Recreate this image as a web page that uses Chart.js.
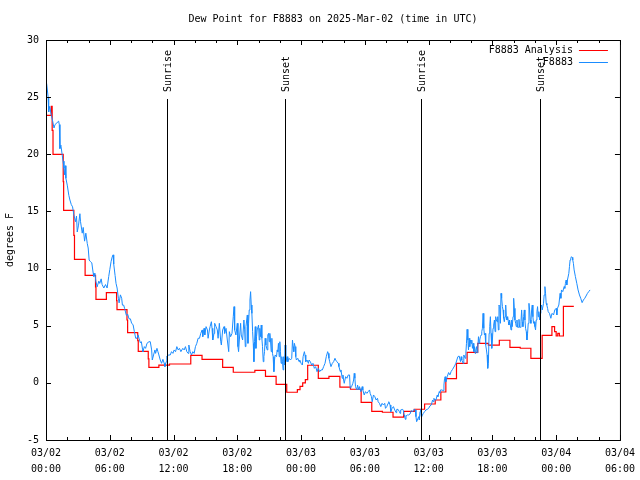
<!DOCTYPE html>
<html>
<head>
<meta charset="utf-8">
<title>Dew Point for F8883</title>
<script src="https://cdn.jsdelivr.net/npm/chart.js@4.4.1/dist/chart.umd.min.js"></script>
<style>
  html, body { margin: 0; padding: 0; background: #fff; }
  canvas { display: block; }
</style>
</head>
<body>
<canvas id="dewChart" width="640" height="480"></canvas>
<script>
const FONT = 'DejaVu Sans Mono';

// x axis: hours since 03/02 00:00 UTC, labelled every 6 h
const xTickDates = ['03/02', '03/02', '03/02', '03/02', '03/03', '03/03', '03/03', '03/03', '03/04', '03/04'];
const xTickTimes = ['00:00', '06:00', '12:00', '18:00', '00:00', '06:00', '12:00', '18:00', '00:00', '06:00'];

// sunrise / sunset markers (hours)
const sunHours = [11.37, 22.5, 35.28, 46.47];
const sunNames = ['Sunrise', 'Sunset', 'Sunrise', 'Sunset'];

// F8883 Analysis (hourly, stepped) [hour, degF]
const analysisPoints = [
    [0, 23.4], [0.5, 24.2], [0.58, 22.1], [0.66, 20.0], [1.62, 17.6], [1.66, 15.1], [2.62, 12.9], [2.68, 10.8],
    [3.68, 9.4], [4.66, 8.4], [4.7, 7.3], [5.68, 7.9], [6.64, 7.2], [6.68, 6.4], [7.62, 5.5], [7.68, 4.4],
    [8.63, 3.7], [8.68, 2.75], [9.62, 2.1], [9.68, 1.36], [10.62, 1.55], [11.62, 1.65], [13.62, 2.41], [14.68, 2.06],
    [16.62, 1.36], [17.62, 0.93], [19.65, 1.1], [20.65, 0.57], [21.65, -0.13], [22.65, -0.82], [23.65, -0.6], [23.9, -0.3],
    [24.15, 0.0], [24.4, 0.28], [24.62, 1.54], [25.62, 0.4], [26.62, 0.57], [27.65, -0.38], [28.65, -0.56], [29.65, -1.7],
    [30.65, -2.49], [31.65, -2.57], [32.65, -3.0], [33.65, -2.49], [34.65, -2.31], [35.62, -1.85], [36.62, -1.5], [37.15, -0.8],
    [37.62, 0.37], [38.62, 1.71], [39.62, 2.67], [40.62, 3.46], [41.62, 3.3], [42.65, 3.73], [43.65, 3.11], [44.62, 3.03],
    [45.62, 2.15], [46.68, 4.16], [47.6, 4.92], [47.85, 4.48], [48.0, 4.1], [48.15, 4.33], [48.3, 4.1], [48.68, 6.7],
    [49.66, 6.7]
];

// F8883 observations [hour, degF]
const obsPoints = [
    [0.06, 26.2], [0.2, 25.0], [0.25, 23.7], [0.35, 24.2], [0.5, 23.4], [0.63, 22.9], [0.75, 22.3], [0.85, 22.6],
    [0.94, 22.6], [1.19, 22.9], [1.25, 22.6], [1.31, 20.5], [1.4, 20.8], [1.53, 19.9], [1.6, 19.4], [1.69, 18.8],
    [1.75, 18.2], [1.81, 19.0], [1.87, 17.9], [2.0, 17.3], [2.15, 16.4], [2.25, 16.0], [2.38, 15.6], [2.5, 15.4],
    [2.62, 14.7], [2.78, 14.1], [2.87, 14.6], [2.94, 13.2], [3.06, 13.8], [3.19, 14.8], [3.25, 14.1], [3.41, 13.1],
    [3.5, 13.6], [3.63, 12.4], [3.75, 13.1], [3.88, 12.2], [3.97, 11.8], [4.06, 10.75], [4.19, 10.6], [4.31, 10.5],
    [4.44, 9.6], [4.5, 9.3], [4.6, 9.6], [4.69, 8.9], [4.81, 8.4], [4.97, 8.9], [5.06, 8.7], [5.19, 9.1],
    [5.28, 8.6], [5.44, 8.3], [5.6, 8.6], [5.75, 8.3], [5.9, 9.3], [6.0, 9.9], [6.12, 10.6], [6.22, 11.0],
    [6.31, 11.2], [6.37, 10.4], [6.5, 9.4], [6.59, 8.7], [6.69, 8.3], [6.81, 7.4], [6.88, 7.0], [7.0, 7.7],
    [7.12, 7.4], [7.19, 6.8], [7.31, 6.8], [7.4, 6.5], [7.56, 5.9], [7.69, 6.0], [7.81, 5.6], [7.94, 5.6],
    [8.06, 5.2], [8.19, 5.1], [8.31, 4.5], [8.44, 3.9], [8.56, 3.9], [8.66, 4.2], [8.75, 3.9], [8.88, 3.5],
    [8.97, 3.6], [9.09, 2.9],
    [9.12, 2.73], [9.25, 3.17], [9.37, 3.02], [9.5, 3.46], [9.69, 3.6], [9.81, 3.6], [9.94, 2.88], [10.0, 2.0],
    [10.12, 2.44], [10.25, 2.88], [10.31, 2.58], [10.44, 3.02], [10.53, 2.73], [10.62, 2.44], [10.75, 2.0], [10.87, 1.71],
    [11.0, 2.06], [11.12, 1.71], [11.19, 1.42], [11.31, 1.85], [11.37, 2.35], [11.56, 2.44], [11.69, 2.44], [11.81, 2.73],
    [11.94, 2.58], [12.06, 2.88], [12.19, 2.73], [12.31, 3.17], [12.44, 2.88], [12.56, 3.02], [12.69, 2.73], [12.87, 3.02],
    [13.0, 2.88], [13.12, 3.17], [13.25, 2.73], [13.37, 2.58], [13.44, 3.31], [13.56, 2.73], [13.69, 2.44], [13.81, 2.73],
    [13.94, 2.58], [14.06, 3.17], [14.19, 3.46], [14.31, 3.9], [14.44, 3.9], [14.56, 4.33], [14.69, 4.63], [14.75, 4.04],
    [14.87, 4.77], [14.94, 4.19], [15.06, 4.92], [15.19, 4.63], [15.25, 3.9], [15.37, 4.63], [15.44, 4.92], [15.56, 5.35],
    [15.62, 4.77], [15.69, 3.75], [15.81, 4.33], [15.87, 5.21], [16.0, 4.92], [16.12, 4.63], [16.19, 3.9], [16.31, 5.21],
    [16.44, 3.6], [16.5, 3.31], [16.62, 4.63], [16.75, 4.92], [16.81, 4.33], [16.94, 4.77], [17.06, 3.75], [17.19, 2.73],
    [17.25, 4.48], [17.37, 4.04], [17.5, 4.33], [17.62, 5.79], [17.69, 6.67], [17.75, 4.63], [17.87, 4.19], [18.0, 5.21],
    [18.06, 3.17], [18.12, 2.73], [18.19, 3.75], [18.31, 5.21], [18.37, 4.19], [18.5, 3.75], [18.62, 5.5], [18.69, 4.63],
    [18.75, 3.17], [18.81, 4.92], [18.94, 5.94], [19.0, 3.46],
    [19.06, 5.21], [19.12, 6.38], [19.19, 7.25], [19.25, 7.98], [19.31, 6.81], [19.37, 6.08], [19.44, 4.48], [19.5, 3.46],
    [19.56, 1.85], [19.62, 3.6], [19.69, 4.92], [19.75, 3.02], [19.81, 4.04], [19.87, 4.63], [20.0, 5.06], [20.06, 3.75],
    [20.12, 4.77], [20.19, 4.04], [20.25, 5.06], [20.31, 3.9], [20.37, 3.17], [20.44, 1.85], [20.5, 2.29], [20.56, 2.73],
    [20.62, 3.9], [20.69, 3.31], [20.81, 2.88], [20.87, 4.19], [20.94, 4.33], [21.0, 3.6], [21.06, 4.33], [21.12, 3.75],
    [21.19, 2.73], [21.25, 3.9], [21.31, 2.58], [21.37, 2.29], [21.44, 0.98], [21.5, 2.0], [21.56, 2.44], [21.69, 2.29],
    [21.75, 2.88], [21.81, 2.73], [21.87, 3.46], [21.94, 2.29], [22.0, 3.6], [22.06, 2.73], [22.12, 1.71], [22.19, 2.29],
    [22.25, 1.85], [22.31, 1.13], [22.37, 2.29], [22.44, 1.56], [22.5, 3.31], [22.56, 1.85], [22.69, 2.29], [22.75, 1.85],
    [22.87, 2.15], [23.0, 2.0], [23.12, 2.15], [23.19, 3.75], [23.25, 3.17], [23.31, 2.73], [23.37, 3.46], [23.44, 3.17],
    [23.5, 2.29], [23.56, 2.0], [23.69, 2.15], [23.81, 1.85], [23.87, 2.0], [24.0, 1.71], [24.12, 1.56], [24.19, 2.29],
    [24.31, 2.73], [24.37, 2.44], [24.44, 1.85], [24.56, 2.0], [24.69, 1.71], [24.75, 2.0], [24.87, 1.85], [25.0, 1.56],
    [25.12, 1.71], [25.25, 1.27], [25.37, 1.42], [25.5, 0.98], [25.62, 1.27], [25.75, 0.98], [25.87, 1.13], [26.0, 1.13],
    [26.12, 1.42], [26.25, 1.71], [26.37, 2.29], [26.5, 2.73], [26.56, 2.58], [26.62, 2.15], [26.69, 1.85], [26.81, 1.42],
    [26.94, 1.71], [27.06, 1.85], [27.19, 2.15], [27.25, 2.0], [27.37, 1.85], [27.5, 1.71], [27.56, 1.42], [27.69, 0.98],
    [27.75, 1.13], [27.87, 0.4], [27.94, 0.69], [28.0, 0.25], [28.06, -0.04], [28.19, 0.54], [28.31, 0.4], [28.44, 0.69],
    [28.56, 0.69], [28.62, -0.48], [28.75, -0.33], [28.87, -0.04], [28.94, 0.25], [29.0, 0.83], [29.06, 0.4], [29.12, -0.33],
    [29.25, -0.62], [29.31, -0.19], [29.44, -0.62], [29.5, -0.33], [29.62, -0.77], [29.75, -0.33], [29.81, -0.62], [29.94, -1.06],
    [30.06, -0.77], [30.19, -0.92], [30.31, -0.77], [30.44, -0.62], [30.5, -0.92], [30.62, -1.21], [30.69, -1.65], [30.81, -1.06],
    [30.94, -1.21], [31.06, -1.5], [31.19, -1.35], [31.25, -1.65], [31.37, -1.79], [31.5, -2.08], [31.62, -1.79], [31.75, -1.94],
    [31.87, -1.79], [31.94, -2.23], [32.06, -2.08], [32.19, -1.79], [32.25, -1.65], [32.37, -1.94], [32.44, -2.52], [32.56, -2.23],
    [32.69, -2.08], [32.81, -2.37], [32.94, -2.61], [33.0, -2.32], [33.12, -2.32], [33.25, -2.52], [33.31, -2.67], [33.37, -2.37],
    [33.56, -2.32], [33.62, -2.43], [33.69, -2.81], [33.75, -2.96], [33.81, -3.19], [33.87, -2.9], [34.0, -2.81], [34.12, -2.81],
    [34.25, -2.72], [34.37, -2.43], [34.5, -2.52], [34.62, -2.32], [34.75, -2.37], [34.81, -2.96], [34.87, -3.4], [34.94, -3.25],
    [35.06, -2.96], [35.12, -3.25], [35.19, -2.52], [35.25, -2.32], [35.31, -2.96], [35.37, -2.9], [35.5, -2.67], [35.62, -2.52],
    [35.75, -2.37], [35.87, -2.32], [36.0, -2.23], [36.12, -2.02], [36.25, -1.94], [36.37, -1.5], [36.44, -1.65], [36.5, -1.35],
    [36.56, -1.5], [36.69, -1.5], [36.81, -1.06], [36.87, -1.21], [37.0, -0.77], [37.06, -0.86], [37.12, -0.62], [37.25, -0.62],
    [37.37, -0.68], [37.44, -0.19], [37.5, 0.4], [37.56, 0.54], [37.62, 0.1], [37.75, 0.54], [37.88, 0.9], [38.0, 0.7],
    [38.12, 1.0], [38.25, 1.18], [38.44, 1.48], [38.56, 1.71], [38.75, 2.29], [38.87, 2.35], [39.0, 1.86], [39.06, 2.29],
    [39.12, 2.0], [39.25, 1.71], [39.31, 2.44], [39.44, 2.15], [39.5, 2.58], [39.56, 3.46], [39.62, 4.68], [39.69, 3.75],
    [39.75, 2.88], [39.81, 3.9], [39.87, 3.17], [39.94, 3.75], [40.0, 3.46], [40.06, 3.75], [40.12, 3.02], [40.19, 3.46],
    [40.25, 2.73], [40.31, 3.17], [40.37, 2.58], [40.44, 2.88], [40.5, 3.17], [40.56, 2.64], [40.62, 3.02], [40.69, 4.04],
    [40.75, 3.46], [40.81, 3.75], [40.87, 4.04], [40.94, 4.19], [41.0, 4.48], [41.06, 4.77], [41.12, 6.08], [41.19, 4.77],
    [41.25, 4.19], [41.31, 4.33], [41.37, 3.31], [41.44, 2.88], [41.5, 2.44], [41.56, 1.27], [41.62, 1.71], [41.69, 4.33],
    [41.75, 4.92], [41.81, 5.79], [41.87, 4.33], [41.94, 3.02], [42.0, 3.75], [42.06, 4.77], [42.12, 5.06], [42.19, 5.5],
    [42.25, 4.48], [42.31, 5.79], [42.37, 5.5], [42.44, 5.35], [42.5, 5.79], [42.56, 4.63], [42.62, 6.81], [42.69, 6.67],
    [42.75, 5.21], [42.81, 7.83], [42.87, 7.4], [42.94, 6.67], [43.0, 6.38], [43.06, 5.65], [43.12, 5.35], [43.19, 5.79],
    [43.25, 6.81], [43.31, 5.79], [43.37, 5.5], [43.44, 5.79], [43.5, 5.35], [43.56, 5.06], [43.62, 5.5], [43.69, 5.06],
    [43.75, 4.63], [43.81, 5.5], [43.87, 4.92], [43.94, 5.79], [44.0, 7.4], [44.06, 6.52], [44.12, 5.5], [44.19, 5.21],
    [44.25, 4.92], [44.31, 5.5], [44.37, 4.86], [44.44, 4.86], [44.5, 5.56], [44.56, 4.86], [44.62, 4.86], [44.69, 5.35],
    [44.75, 6.38], [44.81, 5.35], [44.87, 4.92], [44.94, 5.79], [45.0, 6.38], [45.06, 5.5], [45.12, 4.77], [45.19, 4.48],
    [45.25, 3.75], [45.31, 4.33], [45.37, 5.21], [45.44, 6.96], [45.5, 6.38], [45.56, 5.5], [45.62, 5.21], [45.69, 6.38],
    [45.75, 6.81], [45.81, 5.79], [45.87, 5.21], [45.94, 5.35], [46.0, 4.92], [46.06, 4.63], [46.12, 5.5], [46.19, 6.23],
    [46.25, 6.67], [46.31, 5.79], [46.37, 6.23], [46.44, 5.5], [46.5, 6.08], [46.56, 6.67], [46.62, 6.81], [46.69, 6.38],
    [46.75, 6.38], [46.81, 6.96], [46.87, 7.69], [46.94, 8.42], [47.0, 7.83], [47.06, 6.96], [47.12, 6.81], [47.19, 6.52],
    [47.25, 6.23], [47.37, 6.08], [47.5, 5.65], [47.56, 5.94], [47.62, 6.08], [47.75, 5.94], [47.87, 6.38], [48.0, 6.52],
    [48.06, 5.94], [48.12, 6.52], [48.25, 6.81], [48.37, 7.83], [48.44, 7.4], [48.5, 8.13], [48.62, 7.98], [48.75, 8.42],
    [48.81, 8.27], [48.87, 8.71], [48.94, 9.0], [49.0, 8.56], [49.06, 9.0], [49.19, 9.58], [49.25, 10.17], [49.31, 10.75],
    [49.37, 10.9], [49.44, 11.04], [49.5, 10.98], [49.56, 10.75], [49.62, 10.46], [49.69, 9.88], [49.81, 9.29], [49.94, 8.71],
    [50.06, 8.13], [50.19, 7.69], [50.31, 7.4], [50.44, 7.02], [50.56, 7.25], [50.69, 7.4], [50.81, 7.6], [50.94, 7.83],
    [51.06, 7.98], [51.19, 8.13]
];

const toXY = pts => pts.map(p => ({ x: p[0], y: p[1] }));

// gnuplot-style frame, inward tics, sun markers and key
const gnuplotDecor = {
    id: 'gnuplotDecor',
    afterDatasetsDraw(chart) {
        const ctx = chart.ctx;
        const a = chart.chartArea;
        const xs = chart.scales.x;
        const ys = chart.scales.y;
        ctx.save();
        ctx.strokeStyle = '#000';
        ctx.lineWidth = 1;

        // tics
        ctx.beginPath();
        for (let h = xs.min; h <= xs.max; h += 2) {
            const px = Math.round(xs.getPixelForValue(h)) + 0.5;
            const len = h % 6 === 0 ? 5 : 3;
            ctx.moveTo(px, a.bottom); ctx.lineTo(px, a.bottom - len);
            ctx.moveTo(px, a.top); ctx.lineTo(px, a.top + len);
        }
        for (let v = ys.min; v <= ys.max; v += 5) {
            const py = Math.round(ys.getPixelForValue(v)) + 0.5;
            ctx.moveTo(a.left, py); ctx.lineTo(a.left + 5, py);
            ctx.moveTo(a.right, py); ctx.lineTo(a.right - 5, py);
        }
        ctx.stroke();

        // border
        ctx.strokeRect(a.left + 0.5, a.top + 0.5, a.right - a.left, a.bottom - a.top);

        // sunrise / sunset
        ctx.font = '10px "' + FONT + '"';
        ctx.fillStyle = '#000';
        sunHours.forEach((h, i) => {
            const px = Math.round(xs.getPixelForValue(h)) + 0.5;
            ctx.beginPath();
            ctx.moveTo(px, a.top + 59);
            ctx.lineTo(px, a.bottom);
            ctx.stroke();
            ctx.save();
            ctx.translate(px + 1, a.top + 52);
            ctx.rotate(-Math.PI / 2);
            ctx.textAlign = 'left';
            ctx.textBaseline = 'middle';
            ctx.fillText(sunNames[i], 0, 0);
            ctx.restore();
        });

        // key
        ctx.textAlign = 'right';
        ctx.textBaseline = 'middle';
        chart.data.datasets.forEach((ds, i) => {
            const ly = a.top + 10 + i * 12;
            ctx.fillStyle = '#000';
            ctx.fillText(ds.label, a.right - 47, ly);
            ctx.strokeStyle = ds.borderColor;
            ctx.beginPath();
            ctx.moveTo(a.right - 41, ly + 0.5);
            ctx.lineTo(a.right - 12, ly + 0.5);
            ctx.stroke();
        });
        ctx.restore();
    }
};

new Chart(document.getElementById('dewChart'), {
    type: 'line',
    data: {
        datasets: [{
            label: 'F8883 Analysis',
            data: toXY(analysisPoints),
            borderColor: '#ff0000',
            borderWidth: 1.2,
            pointRadius: 0,
            stepped: 'before',
            order: 2
        }, {
            label: 'F8883',
            data: toXY(obsPoints),
            borderColor: '#1a8cff',
            borderWidth: 1,
            pointRadius: 0,
            tension: 0,
            order: 1
        }]
    },
    options: {
        responsive: false,
        animation: false,
        devicePixelRatio: 1,
        events: [],
        layout: { padding: { left: 0, right: 18, top: 0, bottom: 0 } },
        plugins: {
            legend: { display: false },
            tooltip: { enabled: false },
            title: {
                display: true,
                fullSize: false,
                text: 'Dew Point for F8883 on 2025-Mar-02 (time in UTC)',
                color: '#000',
                font: { family: FONT, size: 10, weight: 'normal', lineHeight: 1.2 },
                padding: { top: 13, bottom: 15 }
            }
        },
        scales: {
            x: {
                type: 'linear',
                min: 0,
                max: 54,
                grid: { display: false, drawTicks: false, tickLength: 0 },
                border: { display: false },
                ticks: {
                    stepSize: 6,
                    autoSkip: false,
                    maxRotation: 0,
                    padding: 5,
                    color: '#000',
                    font: { family: FONT, size: 10, lineHeight: 1.6 },
                    callback: v => [xTickDates[v / 6], xTickTimes[v / 6]]
                },
                afterFit: s => { s.height = 40; }
            },
            y: {
                min: -5,
                max: 30,
                grid: { display: false, drawTicks: false, tickLength: 0 },
                border: { display: false },
                ticks: {
                    stepSize: 5,
                    padding: 7,
                    color: '#000',
                    font: { family: FONT, size: 10 }
                },
                title: {
                    display: true,
                    text: 'degrees F',
                    color: '#000',
                    font: { family: FONT, size: 10, lineHeight: 1.2 },
                    padding: { top: 4, bottom: 0 }
                },
                afterFit: s => { s.width = 46; }
            }
        }
    },
    plugins: [gnuplotDecor]
});
</script>
</body>
</html>
